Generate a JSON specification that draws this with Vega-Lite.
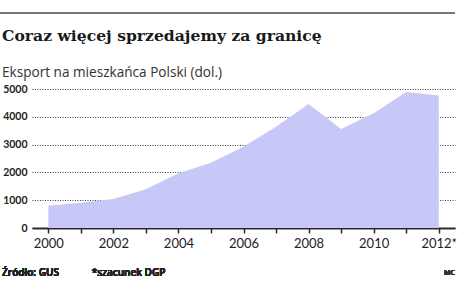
{
  "$schema": "https://vega.github.io/schema/vega-lite/v6.json",
  "autosize": {"type": "none"},
  "width": 423,
  "height": 139,
  "padding": {"left": 32, "top": 89, "right": 21, "bottom": 60},
  "background": "#ffffff",
  "title": {
    "text": "Coraz więcej sprzedajemy za granicę",
    "subtitle": "Eksport na mieszkańca Polski (dol.)",
    "anchor": "start",
    "frame": "group",
    "dx": -30,
    "dy": 76,
    "offset": 8,
    "font": "DejaVu Serif",
    "fontSize": 15.6,
    "fontWeight": "bold",
    "color": "#1a1a1a",
    "subtitleFont": "Open Sans",
    "subtitleFontSize": 13.6,
    "subtitleColor": "#333333",
    "subtitlePadding": 22
  },
  "config": {
    "view": {"stroke": null},
    "axis": {"labelFont": "Lato", "labelColor": "#222222"}
  },
  "resolve": {"axis": {"x": "independent", "y": "independent"}},
  "data": {
    "values": [
      {"rok": 2000, "eksport": 800},
      {"rok": 2001, "eksport": 910},
      {"rok": 2002, "eksport": 1040},
      {"rok": 2003, "eksport": 1390},
      {"rok": 2004, "eksport": 1970},
      {"rok": 2005, "eksport": 2350},
      {"rok": 2006, "eksport": 2920},
      {"rok": 2007, "eksport": 3640},
      {"rok": 2008, "eksport": 4460},
      {"rok": 2009, "eksport": 3560},
      {"rok": 2010, "eksport": 4130},
      {"rok": 2011, "eksport": 4890},
      {"rok": 2012, "eksport": 4770}
    ]
  },
  "layer": [
    {
      "mark": {"type": "area", "color": "#c8c8f8", "opacity": 1},
      "encoding": {
        "x": {
          "field": "rok",
          "type": "quantitative",
          "scale": {"domain": [1999.5, 2012.5], "nice": false, "zero": false},
          "axis": {
            "title": null,
            "values": [2000, 2001, 2002, 2003, 2004, 2005, 2006, 2007, 2008, 2009, 2010, 2011, 2012],
            "labelExpr": "datum.value % 2 == 0 ? (datum.value == 2012 ? '2012*' : format(datum.value, 'd')) : ''",
            "labelOverlap": false,
            "domainColor": "#2a2a2a",
            "domainWidth": 2,
            "tickColor": "#2a2a2a",
            "tickWidth": 1.5,
            "tickSize": 5,
            "labelFontSize": 13,
            "labelPadding": 4,
            "grid": false
          }
        },
        "y": {
          "field": "eksport",
          "type": "quantitative",
          "scale": {"domain": [0, 5000], "nice": false},
          "axis": {
            "title": null,
            "values": [0, 1000, 2000, 3000, 4000, 5000],
            "format": "d",
            "labelOverlap": false,
            "domain": false,
            "ticks": false,
            "labelFontSize": 10.5,
            "labelFontWeight": "bold",
            "labelPadding": 5,
            "minExtent": 30,
            "maxExtent": 30,
            "grid": true,
            "gridColor": "#3a3a3a",
            "gridOpacity": 1,
            "gridDash": [1, 1.5],
            "gridWidth": 1
          }
        }
      }
    },
    {
      "mark": {"type": "rule", "color": "#777777", "strokeWidth": 2},
      "encoding": {
        "x": {"datum": 1998.52, "axis": null},
        "x2": {"datum": 2012.5},
        "y": {"datum": 7734, "axis": null}
      }
    },
    {
      "mark": {"type": "text", "align": "left", "baseline": "middle", "font": "Open Sans", "fontSize": 10, "fontWeight": 600, "color": "#222222"},
      "encoding": {
        "x": {"datum": 1998.58, "axis": null},
        "y": {"datum": -1620, "axis": null},
        "text": {"value": "Źródło: GUS"}
      }
    },
    {
      "mark": {"type": "text", "align": "left", "baseline": "middle", "font": "Open Sans", "fontSize": 10, "fontWeight": 600, "color": "#222222"},
      "encoding": {
        "x": {"datum": 2001.34, "axis": null},
        "y": {"datum": -1620, "axis": null},
        "text": {"value": "*szacunek DGP"}
      }
    },
    {
      "mark": {"type": "text", "align": "right", "baseline": "middle", "font": "Open Sans", "fontSize": 7, "fontWeight": 600, "color": "#333333"},
      "encoding": {
        "x": {"datum": 2012.5, "axis": null},
        "y": {"datum": -1620, "axis": null},
        "text": {"value": "MC"}
      }
    }
  ]
}
